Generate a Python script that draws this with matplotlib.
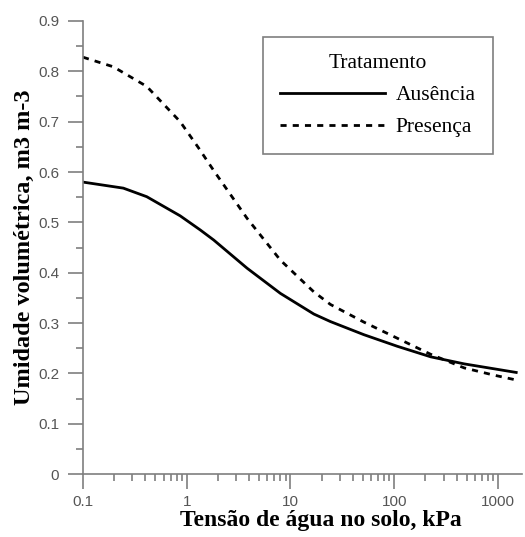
import numpy as np
import matplotlib.pyplot as plt
from matplotlib.ticker import FixedLocator, FixedFormatter, LogLocator, MultipleLocator

# Tensao (kPa) e umidade volumetrica
tensao_aus = [0.1, 0.245, 0.412, 0.865, 1.35, 1.82, 3.82, 8.0, 16.8, 24.3, 51, 107, 225, 473, 1500]
umid_aus = [0.580, 0.568, 0.551, 0.513, 0.485, 0.465, 0.409, 0.359, 0.318, 0.303, 0.277, 0.254, 0.233, 0.219, 0.202]

tensao_pres = [0.1, 0.196, 0.412, 0.865, 1.30, 1.82, 3.82, 8.0, 16.8, 24.3, 51, 107, 225, 473, 900, 1500]
umid_pres = [0.828, 0.809, 0.770, 0.700, 0.648, 0.603, 0.508, 0.425, 0.362, 0.337, 0.302, 0.270, 0.238, 0.211, 0.197, 0.187]

xticks = [0.1, 1, 10, 100, 1000]
xtick_labels = ["0.1", "1", "10", "100", "1000"]
yticks = [0, 0.1, 0.2, 0.3, 0.4, 0.5, 0.6, 0.7, 0.8, 0.9]
ytick_labels = ["0", "0.1", "0.2", "0.3", "0.4", "0.5", "0.6", "0.7", "0.8", "0.9"]

gray = "#7f7f7f"

fig = plt.figure(figsize=(5.25, 5.37), dpi=100)
ax = fig.add_axes([0.158, 0.117, 0.836, 0.844])

ax.plot(tensao_aus, umid_aus, color="black", lw=2, label="Ausência")
ax.plot(tensao_pres, umid_pres, color="black", lw=2, dashes=(2.2, 2.2), label="Presença")

ax.set_xscale("log")
ax.set_xlim(0.1, 1700)
ax.set_ylim(0, 0.9)

for s in ["top", "right"]:
    ax.spines[s].set_visible(False)
for s in ["left", "bottom"]:
    ax.spines[s].set_color(gray)
    ax.spines[s].set_linewidth(1.2)

ax.xaxis.set_major_locator(FixedLocator(xticks))
ax.xaxis.set_major_formatter(FixedFormatter(xtick_labels))
ax.xaxis.set_minor_locator(LogLocator(base=10, subs=np.arange(2, 10)))
ax.yaxis.set_major_locator(FixedLocator(yticks))
ax.yaxis.set_major_formatter(FixedFormatter(ytick_labels))
ax.yaxis.set_minor_locator(MultipleLocator(0.05))

ax.tick_params(which="major", length=11, width=1.2, color=gray, labelcolor="#555555",
               labelsize=11, pad=6)
ax.tick_params(axis="x", which="major", pad=4)
ax.tick_params(which="minor", length=5, width=1.2, color=gray)
for lab in ax.get_xticklabels() + ax.get_yticklabels():
    lab.set_family("Liberation Sans")

ax.set_xlabel("Tensão de água no solo, kPa", family="Liberation Serif",
              fontweight="bold", fontsize=17)
ax.xaxis.set_label_coords(0.542, -0.078)
ax.set_ylabel("Umidade volumétrica, m3 m-3", family="Liberation Serif",
              fontweight="bold", fontsize=17.5, labelpad=2)

leg = ax.legend(loc="upper left", bbox_to_anchor=(263 / 525, 1 - 37 / 537),
                bbox_transform=fig.transFigure, borderaxespad=0, title="Tratamento",
                prop={"family": "Liberation Serif", "size": 15.5},
                title_fontproperties={"family": "Liberation Serif", "size": 15.5},
                handlelength=4.85, handletextpad=0.5, borderpad=0.8,
                labelspacing=0.55, fancybox=False, framealpha=1)
leg.get_frame().set_edgecolor(gray)
leg.get_frame().set_linewidth(1.2)

fig.savefig("out.png", dpi=100)
